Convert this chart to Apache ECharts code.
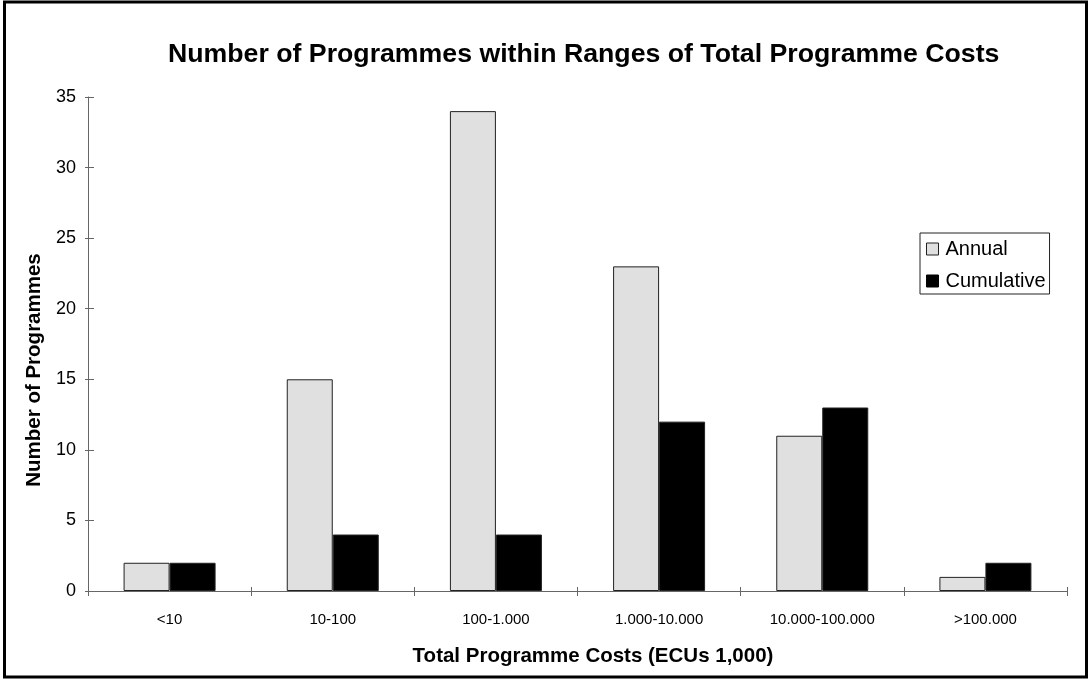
<!DOCTYPE html>
<html>
<head>
<meta charset="utf-8">
<script src="https://cdn.jsdelivr.net/npm/echarts@6/dist/echarts.min.js"></script>
<style>
  html, body { margin: 0; padding: 0; background: #fff; }
  #chart { width: 1090px; height: 679px; }
</style>
</head>
<body>
<div id="chart"></div>
<script>
// Cost ranges (ECUs 1,000) and programme counts
const categories = ['<10', '10-100', '100-1.000', '1.000-10.000', '10.000-100.000', '>100.000'];
const annual = [2, 15, 34, 23, 11, 1];
const cumulative = [2, 4, 4, 12, 13, 2];
const yTicks = { min: 0, max: 35, interval: 5 };

const FONT = '"Liberation Sans", Arial, sans-serif';
const AXIS_COLOR = '#666';

const chart = echarts.init(document.getElementById('chart'), null, { renderer: 'canvas' });

const baseX = {
  type: 'category',
  data: categories,
  position: 'bottom',
  boundaryGap: true
};
const baseY = {
  type: 'value',
  position: 'left',
  min: yTicks.min,
  max: yTicks.max,
  interval: yTicks.interval,
  splitLine: { show: false }
};

chart.setOption({
  animation: false,
  backgroundColor: '#fff',
  grid: { left: 88, right: 23, top: 97, bottom: 88, containLabel: false },
  xAxis: [
    Object.assign({}, baseX, {
      axisLine: { show: true, lineStyle: { color: AXIS_COLOR, width: 1 } },
      axisTick: { show: true, inside: false, length: 5, interval: 0, lineStyle: { color: AXIS_COLOR } },
      axisLabel: { show: true, interval: 0, margin: 21, color: '#000', fontFamily: FONT, fontSize: 15 }
    }),
    Object.assign({}, baseX, {
      axisLine: { show: false },
      axisTick: { show: true, inside: true, length: 4, interval: 0, lineStyle: { color: AXIS_COLOR } },
      axisLabel: { show: false }
    })
  ],
  yAxis: [
    Object.assign({}, baseY, {
      axisLine: { show: true, lineStyle: { color: AXIS_COLOR, width: 1 } },
      axisTick: { show: true, inside: false, length: 3, lineStyle: { color: AXIS_COLOR } },
      axisLabel: { show: true, margin: 12, color: '#000', fontFamily: FONT, fontSize: 18 }
    }),
    Object.assign({}, baseY, {
      axisLine: { show: false },
      axisTick: { show: true, inside: true, length: 6, lineStyle: { color: AXIS_COLOR } },
      axisLabel: { show: false }
    })
  ],
  legend: {
    orient: 'vertical',
    left: 920,
    top: 233,
    width: 134,
    padding: [6, 4, 3, 6],
    itemGap: 12,
    itemWidth: 12,
    itemHeight: 12,
    backgroundColor: '#fff',
    borderColor: '#222',
    borderWidth: 1,
    borderRadius: 0,
    textStyle: { color: '#000', fontFamily: FONT, fontSize: 20, lineHeight: 20, padding: [0, 0, 0, 2] },
    data: [
      { name: 'Annual', icon: 'rect', itemStyle: { color: '#e0e0e0', borderColor: '#222', borderWidth: 1 } },
      { name: 'Cumulative', icon: 'rect', itemStyle: { color: '#000', borderColor: '#000', borderWidth: 1 } }
    ]
  },
  series: [
    {
      name: 'Annual',
      type: 'bar',
      data: annual,
      barWidth: 46,
      barGap: '0%',
      itemStyle: { color: '#e0e0e0', borderColor: '#222', borderWidth: 1 }
    },
    {
      name: 'Cumulative',
      type: 'bar',
      data: cumulative,
      barWidth: 46,
      barGap: '0%',
      itemStyle: { color: '#000', borderColor: '#222', borderWidth: 1 }
    }
  ],
  graphic: [
    {
      type: 'rect',
      shape: { x: 4.5, y: 2, width: 1082, height: 675 },
      style: { fill: 'none', stroke: '#000', lineWidth: 3 },
      silent: true,
      z: 100
    },
    {
      type: 'text',
      x: 168,
      y: 55,
      style: {
        text: 'Number of Programmes within Ranges of Total Programme Costs',
        fill: '#000',
        font: 'bold 26.7px ' + FONT,
        textAlign: 'left',
        textVerticalAlign: 'middle'
      }
    },
    {
      type: 'text',
      x: 593,
      y: 656,
      style: {
        text: 'Total Programme Costs (ECUs 1,000)',
        fill: '#000',
        font: 'bold 20.5px ' + FONT,
        textAlign: 'center',
        textVerticalAlign: 'middle'
      }
    },
    {
      type: 'text',
      x: 34,
      y: 370,
      rotation: Math.PI / 2,
      style: {
        text: 'Number of Programmes',
        fill: '#000',
        font: 'bold 20.5px ' + FONT,
        textAlign: 'center',
        textVerticalAlign: 'middle'
      }
    }
  ]
});
</script>
</body>
</html>
